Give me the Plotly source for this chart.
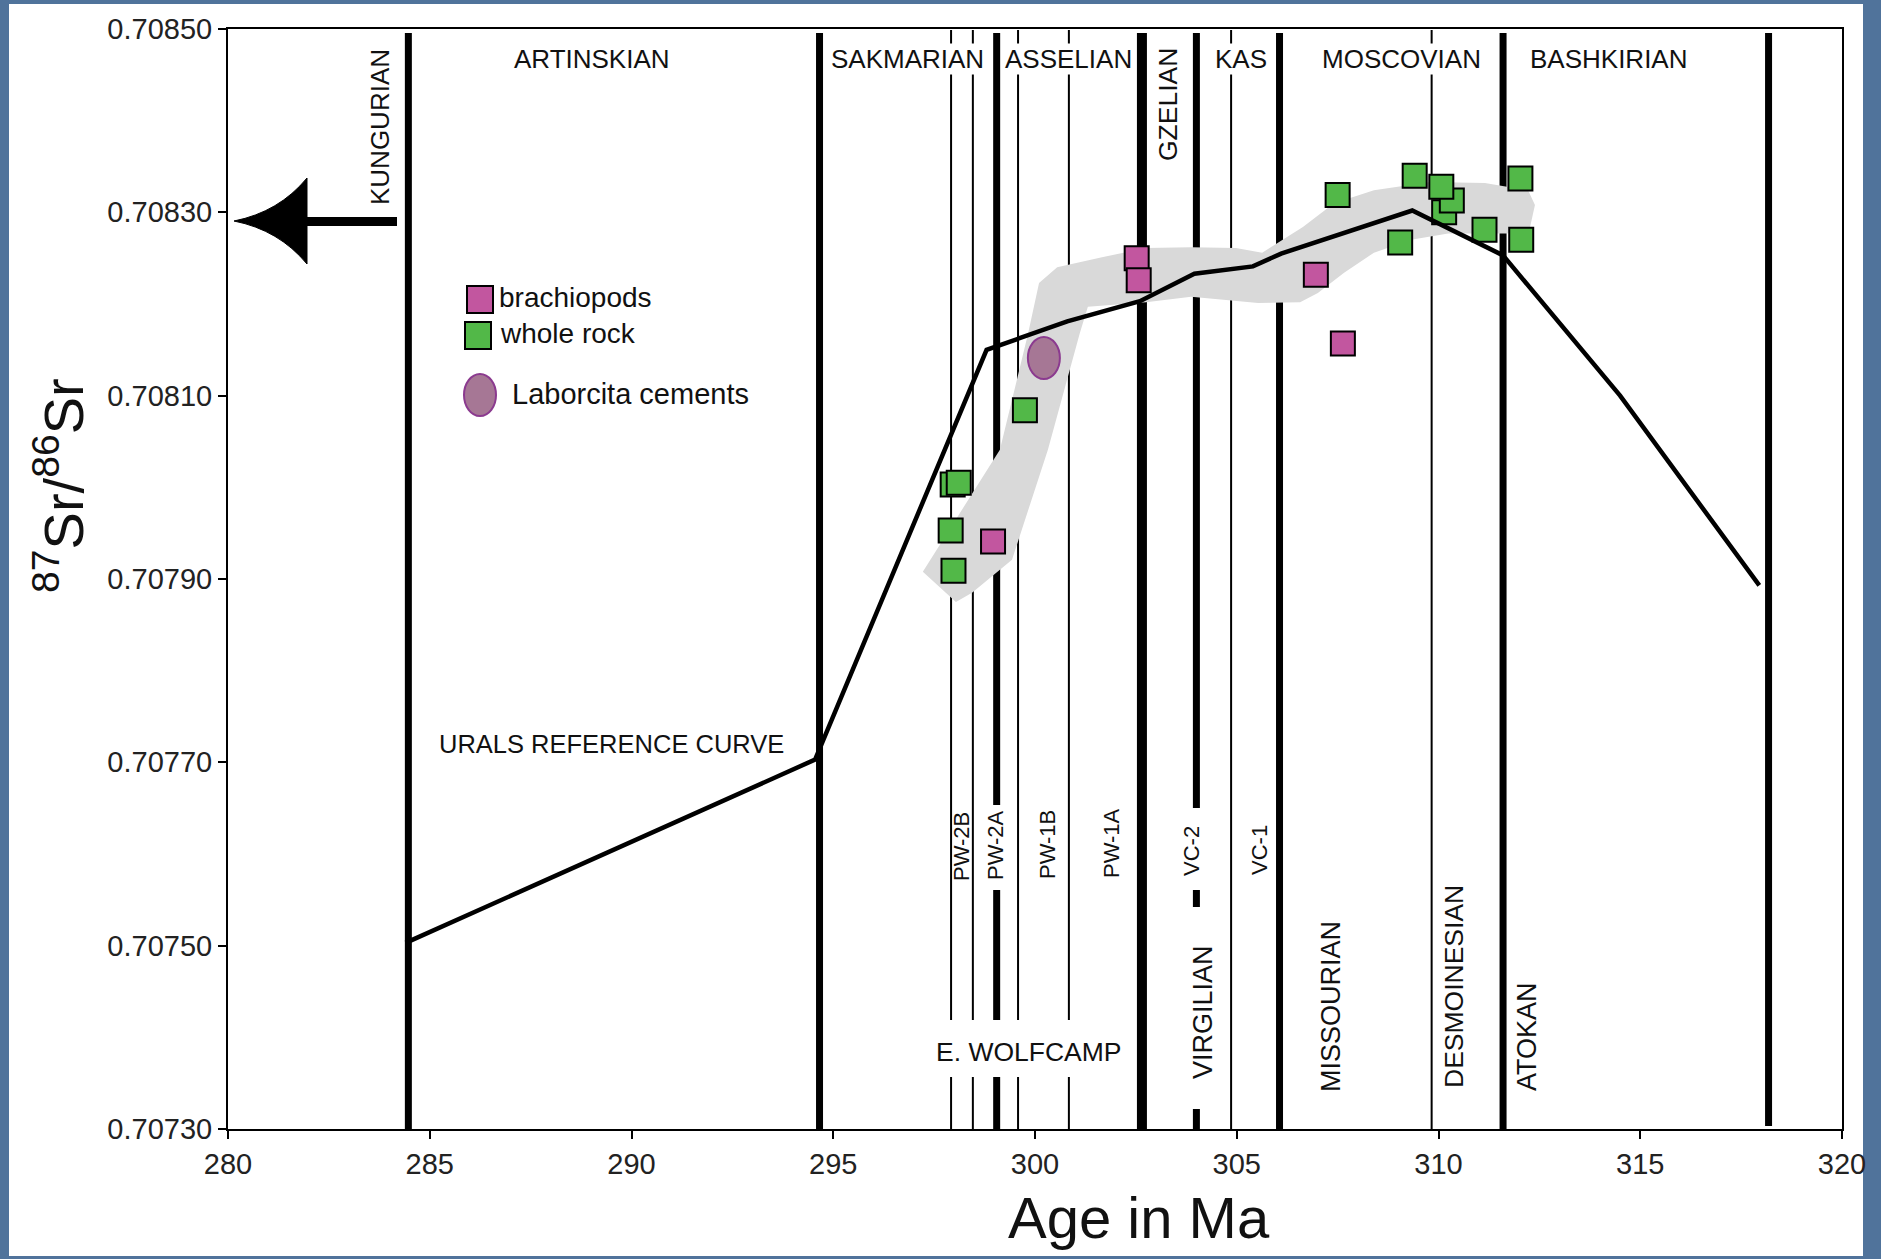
import plotly.graph_objects as go

# ---------------- data ----------------
x_ticks = [280, 285, 290, 295, 300, 305, 310, 315, 320]
y_ticks = [0.70730, 0.70750, 0.70770, 0.70790, 0.70810, 0.70830, 0.70850]
y_tick_labels = ["0.70730", "0.70750", "0.70770", "0.70790", "0.70810", "0.70830", "0.70850"]

# Urals reference curve (age in Ma, 87Sr/86Sr)
urals_age = [284.4, 294.55, 298.8, 300.8, 302.6, 303.95, 305.4, 306.1, 309.35, 311.6, 314.5, 317.95]
urals_sr = [0.707503, 0.707703, 0.708150, 0.708181, 0.708203, 0.708233, 0.708241, 0.708255,
            0.708302, 0.708253, 0.708100, 0.707893]

# brachiopod samples
brachiopod_age = [298.96, 302.52, 302.57, 306.96, 307.63]
brachiopod_sr = [0.707941, 0.708250, 0.708226, 0.708232, 0.708157]

# whole-rock samples
whole_rock_age = [297.96, 298.11, 297.91, 297.98, 299.75, 307.50, 309.05, 309.41,
                  310.14, 310.33, 310.07, 311.14, 312.03, 312.05]
whole_rock_sr = [0.708003, 0.708005, 0.707953, 0.707909, 0.708084, 0.708319, 0.708267, 0.708340,
                 0.708300, 0.708313, 0.708328, 0.708281, 0.708337, 0.708270]

# Laborcita cements
laborcita_age = [300.22]
laborcita_sr = [0.708141]

# shaded envelope around the sample trend (closed outline)
band_age = [298.04, 297.22, 299.13, 299.83, 300.10, 300.55, 301.66, 302.75, 303.87, 304.98,
            305.63, 306.64, 307.41, 308.40, 309.79, 311.15, 312.22, 312.39, 312.27, 311.70,
            310.24, 309.32, 308.40, 307.66, 307.01, 306.57, 305.53, 303.87, 302.75, 301.31,
            301.11, 300.32, 299.43, 298.44]
band_sr = [0.707875, 0.707908, 0.708041, 0.708168, 0.708223, 0.708240, 0.708251, 0.708261,
           0.708262, 0.708261, 0.708256, 0.708284, 0.708310, 0.708324, 0.708333, 0.708332,
           0.708324, 0.708308, 0.708284, 0.708277, 0.708277, 0.708270, 0.708256, 0.708234,
           0.708212, 0.708202, 0.708201, 0.708208, 0.708202, 0.708197, 0.708168, 0.708041,
           0.707921, 0.707885]

# stage / zone boundaries (Ma)
stage_boundaries = [284.47, 294.66, 306.06, 311.6]
last_boundary = 318.18
gzelian_boundary = 302.65
pw2a_boundary = 299.05
vc2_boundary = 304.0
wolfcamp_zones = [297.92, 298.46, 299.58, 300.84]
other_zones = [304.86, 309.83]

# ---------------- layout geometry ----------------
W, H = 1881, 1259
L, R, T, B = 228, 1842, 29, 1129
INK = "#111111"
FONT = "Liberation Sans, Arial, sans-serif"
GREEN = "#52b848"
PINK = "#c2569f"
MAUVE = "#a67795"
MAUVE_EDGE = "#8b3a8f"


def px(x):
    return (x - L) / (R - L)


def py(y):
    return (B - y) / (B - T)


shapes = []

# white panel inside the blue frame
shapes.append(dict(type="rect", xref="paper", yref="paper", x0=px(9), x1=px(1863),
                   y0=py(1256), y1=py(4), fillcolor="white", line=dict(width=0), layer="below"))

# grey envelope
band_path = "M " + " L ".join(f"{a},{s}" for a, s in zip(band_age, band_sr)) + " Z"
shapes.append(dict(type="path", xref="x", yref="y", path=band_path, fillcolor="#d9d9d9",
                   line=dict(width=0), layer="below"))


def vline(x, segs, width):
    for y0, y1 in segs:
        shapes.append(dict(type="line", xref="x", yref="paper", x0=x, x1=x,
                           y0=py(y1), y1=py(y0), line=dict(color="black", width=width),
                           layer="below"))


for b in stage_boundaries:
    vline(b, [(33, 1129)], 7)
vline(last_boundary, [(33, 1126)], 7)
vline(gzelian_boundary, [(33, 1129)], 10)
vline(pw2a_boundary, [(33, 805), (890, 1020), (1077, 1129)], 7)
vline(vc2_boundary, [(33, 808), (890, 907), (1109, 1129)], 7)
for z in wolfcamp_zones:
    vline(z, [(30, 1020), (1077, 1129)], 2)
for z in other_zones:
    vline(z, [(30, 1129)], 2)

# Laborcita cement sample (ellipse marker)
for a, s in zip(laborcita_age, laborcita_sr):
    shapes.append(dict(type="circle", xref="x", yref="y", xsizemode="pixel", ysizemode="pixel",
                       xanchor=a, yanchor=s, x0=-16, x1=16, y0=-21, y1=21,
                       fillcolor=MAUVE, line=dict(color=MAUVE_EDGE, width=2)))

# arrow pointing to younger ages
tip, barb_t, barb_b = (234, 221), (307, 178), (307, 264)
c1, c2 = (279, 212), (279, 230)
arrow_path = (f"M {px(tip[0])},{py(tip[1])} Q {px(c1[0])},{py(c1[1])} {px(barb_t[0])},{py(barb_t[1])} "
              f"L {px(barb_b[0])},{py(barb_b[1])} Q {px(c2[0])},{py(c2[1])} {px(tip[0])},{py(tip[1])} Z")
shapes.append(dict(type="path", xref="paper", yref="paper", path=arrow_path,
                   fillcolor="black", line=dict(color="black", width=1)))
shapes.append(dict(type="rect", xref="paper", yref="paper", x0=px(298), x1=px(397),
                   y0=py(226), y1=py(217), fillcolor="black", line=dict(width=0)))

# legend swatches
shapes.append(dict(type="rect", xref="paper", yref="paper", x0=px(467), x1=px(493),
                   y0=py(313), y1=py(286), fillcolor=PINK, line=dict(color="black", width=2)))
shapes.append(dict(type="rect", xref="paper", yref="paper", x0=px(465), x1=px(491),
                   y0=py(349), y1=py(322), fillcolor=GREEN, line=dict(color="black", width=2)))
shapes.append(dict(type="circle", xref="paper", yref="paper", x0=px(464), x1=px(496),
                   y0=py(416), y1=py(374), fillcolor=MAUVE, line=dict(color=MAUVE_EDGE, width=2)))

# ---------------- text ----------------
annotations = []


def ann(text, cx, cy, size, angle=0, bg=None, xanchor="center"):
    d = dict(text=text, x=px(cx), y=py(cy), xref="paper", yref="paper", showarrow=False,
             font=dict(family=FONT, size=size, color=INK), textangle=angle,
             xanchor=xanchor, yanchor="middle", borderpad=0)
    if bg:
        d["bgcolor"] = bg
    annotations.append(d)


for name, cx in [("ARTINSKIAN", 592), ("SAKMARIAN", 907), ("ASSELIAN", 1068), ("KAS", 1241),
                 ("MOSCOVIAN", 1401), ("BASHKIRIAN", 1609)]:
    ann(name, cx, 59, 26, bg="white")

ann("KUNGURIAN", 380, 127, 26, angle=-90)
ann("GZELIAN", 1168, 105, 26.5, angle=-90)
ann("URALS REFERENCE CURVE", 611, 744, 25.5)
ann("E. WOLFCAMP", 1029, 1052, 26.5)
ann("VIRGILIAN", 1203, 1012, 27, angle=-90)
ann("MISSOURIAN", 1331, 1007, 27, angle=-90)
ann("DESMOINESIAN", 1454, 987, 26.5, angle=-90)
ann("ATOKAN", 1527, 1037, 27, angle=-90)

for name, cx, cy in [("PW-2B", 961, 847), ("PW-2A", 995, 845), ("PW-1B", 1047, 845),
                     ("PW-1A", 1111, 843), ("VC-2", 1191, 851), ("VC-1", 1259, 850)]:
    ann(name, cx, cy, 22, angle=-90)

# legend labels
ann("brachiopods", 498, 298, 28, xanchor="left")
ann("whole rock", 499, 333, 28, xanchor="left")
ann("Laborcita cements", 511, 394, 29, xanchor="left")

# axis titles
ann("Age in Ma", 1139, 1217, 58)
ann("<sup>87</sup>Sr/<sup>86</sup>Sr", 60, 486, 56, angle=-90)

# ---------------- traces ----------------
fig = go.Figure()

fig.add_trace(go.Scatter(x=whole_rock_age, y=whole_rock_sr, mode="markers", name="whole rock",
                         marker=dict(symbol="square", size=24, color=GREEN,
                                     line=dict(color="black", width=2))))
fig.add_trace(go.Scatter(x=brachiopod_age, y=brachiopod_sr, mode="markers", name="brachiopods",
                         marker=dict(symbol="square", size=24, color=PINK,
                                     line=dict(color="black", width=2))))
fig.add_trace(go.Scatter(x=urals_age, y=urals_sr, mode="lines", name="Urals reference curve",
                         line=dict(color="black", width=4.5)))

axis_common = dict(showgrid=False, zeroline=False, showline=True, linecolor="black", linewidth=2,
                   mirror=True, ticks="outside", ticklen=8, tickwidth=2, tickcolor="black",
                   tickfont=dict(family=FONT, size=29, color="#222222"))

fig.update_layout(
    width=W, height=H,
    margin=dict(l=L, r=W - R, t=T, b=H - B),
    paper_bgcolor="#50739b",
    plot_bgcolor="white",
    showlegend=False,
    shapes=shapes,
    annotations=annotations,
    xaxis=dict(range=[280, 320], tickvals=x_ticks, **axis_common),
    yaxis=dict(range=[0.70730, 0.70850], tickvals=y_ticks, ticktext=y_tick_labels, **axis_common),
)

fig.write_html("out.html")
